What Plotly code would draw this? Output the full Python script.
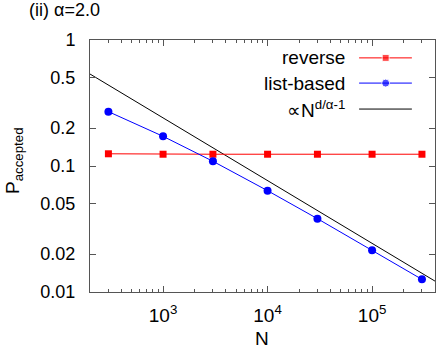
import plotly.graph_objects as go

# data
N = [300, 1000, 3000, 10000, 30000, 100000, 300000]
p_reverse = [0.125, 0.124, 0.124, 0.124, 0.124, 0.124, 0.124]
p_list = [0.27, 0.172, 0.109, 0.0637, 0.0382, 0.0214, 0.0126]
guide_N = [200, 400000]
guide_p = [0.537, 0.0122]

legend_names = ["reverse", "list-based", "\u221dN<sup>d/\u03b1-1</sup>"]
legend_rows = [0.929, 0.829, 0.726]

FONT = "Liberation Sans, Arial, sans-serif"
AXCOL = "#555555"

fig = go.Figure()
fig.add_trace(go.Scatter(x=guide_N, y=guide_p, mode="lines",
                         line=dict(color="black", width=1), showlegend=False))
fig.add_trace(go.Scatter(x=N, y=p_reverse, mode="lines+markers",
                         line=dict(color="#ff0000", width=1),
                         marker=dict(symbol="square", size=7, color="#ff0000"),
                         showlegend=False, cliponaxis=False))
fig.add_trace(go.Scatter(x=N, y=p_list, mode="lines+markers",
                         line=dict(color="#0000ff", width=1),
                         marker=dict(symbol="circle", size=8, color="#0000ff"),
                         showlegend=False, cliponaxis=False))

# hand-made legend (gnuplot style: text on the left, sample on the right)
styles = [("#ff0000", "square", 7), ("#0000ff", "circle", 8), ("black", "circle", 0)]
for name, row, (col, sym, sz) in zip(legend_names, legend_rows, styles):
    fig.add_trace(go.Scatter(x=[0.78, 0.857, 0.933], y=[row] * 3, mode="lines+markers",
                             line=dict(color=col, width=1), xaxis="x2", yaxis="y2",
                             marker=dict(symbol=sym, size=[0, sz, 0], color=col),
                             showlegend=False, hoverinfo="skip"))
    fig.add_annotation(text=name, xref="paper", yref="paper", x=0.745, y=row,
                       xanchor="right", yanchor="middle", showarrow=False,
                       font=dict(family=FONT, size=19, color="black"))

fig.update_layout(
    width=436, height=349,
    margin=dict(l=90, r=1, t=40, b=57, autoexpand=False),
    paper_bgcolor="white", plot_bgcolor="white",
    font=dict(family=FONT, size=18, color="black"),
    xaxis=dict(type="log", range=[2.301, 5.602], automargin=False,
               tickvals=[1e3, 1e4, 1e5],
               ticktext=["10<sup>3</sup>", "10<sup>4</sup>", "10<sup>5</sup>"],
               tickfont=dict(size=19),
               ticks="inside", ticklen=6, tickcolor=AXCOL,
               minor=dict(ticks="inside", ticklen=3, dtick="D1", tickcolor=AXCOL, showgrid=False),
               showline=True, linecolor=AXCOL, linewidth=1, mirror="allticks",
               showgrid=False, zeroline=False, ticklabelstandoff=6),
    yaxis=dict(type="log", range=[-2, 0], automargin=False,
               tickvals=[0.01, 0.02, 0.05, 0.1, 0.2, 0.5, 1],
               ticktext=["0.01", "0.02", "0.05", "0.1", "0.2", "0.5", "1"],
               ticks="inside", ticklen=6, tickcolor=AXCOL,
               showline=True, linecolor=AXCOL, linewidth=1, mirror="allticks",
               showgrid=False, zeroline=False, ticklabelstandoff=10),
    xaxis2=dict(range=[0, 1], overlaying="x", visible=False, fixedrange=True),
    yaxis2=dict(range=[0, 1], overlaying="y", visible=False, fixedrange=True),
)
fig.add_annotation(text="N", xref="paper", yref="paper", x=0.499, y=-0.183,
                   xanchor="center", yanchor="middle", showarrow=False,
                   font=dict(family=FONT, size=19, color="black"))
fig.add_annotation(text="P<sub>accepted</sub>", xref="paper", yref="paper",
                   x=-0.22, y=0.52, textangle=-90, xanchor="center", yanchor="middle",
                   showarrow=False, font=dict(family=FONT, size=19, color="black"))
fig.add_annotation(text="(ii) \u03b1=2.0", xref="paper", yref="paper",
                   x=-0.183, y=1.0, yshift=30, xanchor="left", yanchor="middle",
                   showarrow=False, font=dict(family=FONT, size=18, color="black"))

# page body margin would shift the chart by 8px
fig.write_html("out.html", config={"displayModeBar": False},
               post_script="document.body.style.margin='0';")
